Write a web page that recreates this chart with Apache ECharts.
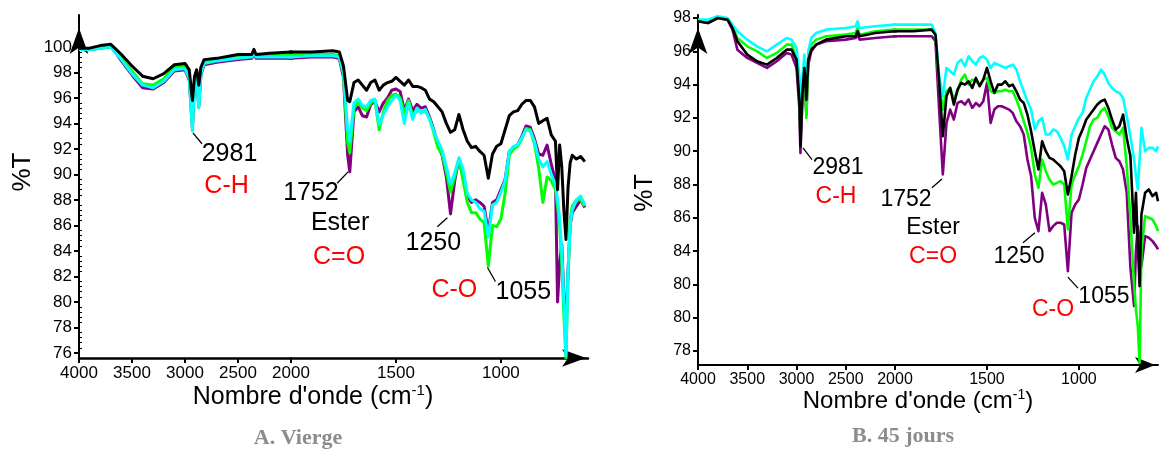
<!DOCTYPE html>
<html><head><meta charset="utf-8">
<script src="https://cdn.jsdelivr.net/npm/echarts@6/dist/echarts.min.js"></script>
<style>html,body{margin:0;padding:0;background:#fff}#c{width:1163px;height:449px}</style>
</head><body><div id="c"></div>
<script>
// ---------- Panel A (Vierge) ----------
const xA = [4000,3900,3800,3700,3650,3600,3500,3400,3300,3200,3100,3000,2960,2930,2910,2890,2870,2850,2820,2700,2500,2370,2350,2330,2200,2000,
 1900,1800,1770,1750,1730,1720,
 1700,1680,1660,1640,1620,1600,1580,1560,1540,1520,1500,1480,1460,1440,1420,1400,1380,1360,1340,1320,1300,1280,1260,1240,
 1220,1200,1180,1160,1140,1120,1100,1080,1060,1040,1020,1000,980,960,940,920,900,880,860,840,820,800,780,760,740,
 730,720,710,700,690,680,670,660,640,620,600];
const blackA = [99.9,99.9,100.1,100.2,99.8,99.4,98.5,97.7,97.5,97.9,98.6,98.7,98.2,95.8,97.7,98.2,97.0,98.4,99.0,99.1,99.4,99.4,99.8,99.4,99.5,99.6,
 99.6,99.7,99.6,98.5,95.8,95.7,
 97.2,97.4,97.0,96.6,97.2,97.4,96.6,97.0,97.2,97.3,97.6,97.3,97.0,97.4,96.9,96.9,96.8,96.6,95.9,95.7,95.3,94.9,94.0,93.3,
 93.5,94.7,93.5,92.6,92.1,92.2,91.8,91.5,89.7,91.6,92.2,92.4,93.5,94.6,94.9,95.0,95.5,95.8,95.8,95.3,94.0,94.2,94.4,93.1,92.6,
 88.8,92.3,90.6,87.2,84.9,89.0,90.9,91.5,91.2,91.4,91.0];
const purpleA = [99.8,99.8,99.9,100.0,99.5,98.9,97.8,96.8,96.7,97.2,98.1,98.2,97.4,93.6,97.2,97.5,95.3,97.8,98.6,98.8,99.0,99.1,99.5,99.1,99.1,99.1,
 99.2,99.2,99.1,97.6,91.5,90.2,
 94.9,95.3,94.6,94.5,95.5,95.7,94.9,95.6,96.0,96.6,96.7,96.5,95.0,95.9,95.0,95.5,95.2,95.3,94.5,93.5,92.3,91.5,89.8,86.9,
 89.5,91.2,89.8,88.3,87.8,88.0,87.8,87.5,85.5,87.8,88.0,88.8,89.6,91.8,92.1,92.3,93.0,93.8,93.7,92.8,91.6,91.5,92.3,90.8,89.5,
 80.0,83.0,84.5,80.5,78.0,82.5,86.0,87.0,87.5,88.0,87.4];
const greenA = [99.8,99.8,99.9,100.0,99.6,99.1,98.1,97.1,97.0,97.5,98.4,98.5,97.7,94.0,97.5,97.8,95.5,98.0,98.8,99.0,99.2,99.3,99.6,99.3,99.3,99.4,
 99.4,99.4,99.3,97.8,92.5,91.7,
 95.2,95.7,95.2,95.0,95.6,95.8,93.5,94.9,95.8,96.2,96.3,96.0,94.8,95.8,94.6,95.0,94.9,95.0,94.4,93.3,92.1,91.6,90.2,88.6,
 89.8,91.2,89.5,87.8,87.0,87.0,86.5,86.2,82.8,86.0,85.9,86.5,88.5,91.5,92.0,92.2,92.8,93.6,93.5,92.4,90.5,87.8,89.8,89.5,88.8,
 87.5,86.0,83.0,79.0,75.6,82.0,86.5,87.5,88.0,88.0,87.5];
const cyanA = [99.8,99.8,99.9,100.0,99.5,99.0,97.9,97.0,96.8,97.3,98.2,98.3,97.5,93.4,97.3,97.6,95.2,97.9,98.7,98.9,99.1,99.2,99.6,99.2,99.2,99.2,
 99.3,99.3,99.2,98.0,93.5,92.6,
 95.6,95.9,95.4,95.3,95.8,95.9,93.9,94.7,95.3,95.8,96.2,95.8,94.0,95.6,94.3,95.2,94.8,95.1,94.3,93.4,92.6,91.9,90.6,89.2,
 90.1,91.3,90.4,88.5,88.0,87.8,87.3,87.1,85.1,87.6,87.8,88.6,89.5,91.8,92.2,92.3,92.9,93.5,93.4,92.6,91.2,90.6,91.0,90.0,89.2,
 88.0,86.5,84.0,80.0,75.8,82.5,86.0,87.2,88.0,88.3,87.6];

// ---------- Panel B (45 jours) ----------
const xB = [4000,3900,3800,3700,3650,3600,3500,3400,3300,3200,3100,3050,3000,2970,2960,2940,2920,2900,2880,2850,2800,2700,2500,2400,2380,2360,2200,2000,
 1900,1800,
 1780,1760,1740,1720,1700,1680,1660,1640,1620,1600,
 1580,1560,1540,1520,1500,1480,1460,1440,1420,1400,
 1380,1360,1340,1320,1300,1280,1260,1240,1220,1200,
 1180,1160,1140,1120,1100,1080,1060,1040,1020,1000,
 980,960,940,920,900,880,860,840,820,800,
 780,760,740,720,700,
 690,680,670,660,640,620,600,580,570];
const blackB = [97.8,97.7,98.0,97.9,97.4,96.6,95.8,95.4,95.2,95.6,96.1,96.1,95.5,93.0,90.3,93.5,95.0,93.1,95.5,96.1,96.4,96.7,96.9,96.9,97.2,96.9,97.1,97.2,
 97.2,97.3,
 97.0,94.2,90.9,93.3,93.8,92.8,93.7,94.1,94.0,94.2,
 93.8,94.4,93.9,94.3,95.0,94.2,93.5,94.0,94.0,94.2,
 93.9,94.0,93.6,93.1,92.9,92.2,91.2,90.0,88.9,90.6,
 90.0,89.6,89.5,89.3,89.1,88.8,87.4,88.5,89.8,90.8,
 91.3,91.9,92.2,92.5,92.8,93.0,93.1,92.6,91.9,91.3,
 91.5,92.2,90.8,89.7,85.1,
 87.5,84.5,81.9,86.2,87.5,87.7,87.3,87.5,87.0];
const purpleB = [97.8,97.7,98.0,97.9,97.3,96.1,95.6,95.3,95.0,95.4,95.9,95.8,95.0,92.5,89.9,93.0,94.6,92.2,95.2,96.0,96.4,96.6,96.7,96.8,97.0,96.7,96.8,96.9,
 96.9,96.9,
 96.6,92.5,88.6,91.7,92.5,91.9,92.9,93.0,92.8,93.1,
 92.6,92.9,92.7,93.0,94.1,91.7,92.5,92.7,92.7,92.6,
 92.5,92.3,91.8,91.5,91.0,89.5,88.5,86.0,85.2,87.5,
 86.8,85.2,85.5,85.7,85.7,85.6,82.8,86.3,86.8,87.1,
 88.0,89.0,89.5,90.0,90.5,91.0,91.5,91.3,90.4,89.6,
 89.4,88.9,87.5,83.0,80.7,
 84.0,85.5,84.5,83.1,84.9,84.8,84.6,84.3,84.1];
const greenB = [97.8,97.8,98.0,97.9,97.5,96.8,96.3,96.0,95.6,95.9,96.4,96.4,95.6,93.5,91.1,93.8,95.3,92.0,95.7,96.4,96.7,96.9,97.0,97.1,97.4,97.0,97.2,97.3,
 97.3,97.3,
 97.0,94.0,92.5,93.6,93.8,93.1,93.6,94.3,94.6,94.0,
 94.3,94.2,94.0,94.3,94.4,93.6,93.5,93.6,93.6,93.7,
 93.6,93.6,93.1,92.5,91.8,91.1,90.2,88.6,87.8,89.5,
 88.8,88.3,88.0,88.1,88.2,88.0,85.3,88.0,88.6,89.1,
 89.8,90.6,91.5,91.9,92.0,92.4,92.6,92.1,91.4,91.2,
 91.0,91.4,89.1,86.0,82.0,
 80.5,79.5,77.3,84.0,86.1,86.0,85.9,85.5,85.2];
const cyanB = [97.9,97.9,98.1,98.0,97.6,97.2,96.7,96.3,96.0,96.4,96.8,96.7,96.2,94.5,92.7,94.5,95.8,93.5,96.0,96.8,97.1,97.3,97.4,97.5,97.8,97.4,97.5,97.6,
 97.6,97.6,
 97.1,94.5,93.3,95.0,94.8,94.6,95.3,95.5,95.1,95.7,
 95.4,95.2,95.6,95.7,95.5,95.0,95.3,95.2,95.1,95.0,
 95.1,95.2,94.9,94.2,93.6,93.0,92.5,91.3,91.8,92.0,
 91.0,91.0,91.3,91.2,90.8,90.3,89.5,91.0,91.5,92.0,
 92.3,93.2,93.7,94.2,94.5,94.9,94.6,94.1,93.8,93.6,
 93.5,93.2,92.1,90.9,89.5,
 88.5,87.7,89.5,91.4,90.0,90.2,90.2,90.0,90.3];

// ---------- tick labels ----------
const xTicksLeft = ['4000','3500','3000','2500','2000'];
const xTicksRight = ['1500','1000'];
const yTicksA = ['76','78','80','82','84','86','88','90','92','94','96','98','100'];
const yTicksB = ['78','80','80','84','86','88','90','92','94','96','98'];
const yTickPosB = [78,80,82,84,86,88,90,92,94,96,98];

// ---------- annotations (data coordinates) ----------
const annA = [
  {text:'2981', wn:2580, v:91.6, color:'#000'},
  {text:'C-H', wn:2608, v:89.1, color:'#ff0000'},
  {text:'1752', wn:1905, v:88.5, color:'#000'},
  {text:'Ester', wn:1766, v:86.2, color:'#000'},
  {text:'C=O', wn:1771, v:83.5, color:'#ff0000'},
  {text:'1250', wn:1322, v:84.6, color:'#000'},
  {text:'C-O', wn:1222, v:80.9, color:'#ff0000'},
  {text:'1055', wn:893, v:80.8, color:'#000'}
];
const leadA = [[2925,93.25,2840,92.4],[1780,89.3,1728,90.2],[1303,85.9,1255,86.6],[1064,82.7,1026,81.6]];
const annB = [
  {text:'2981', wn:2579, v:89.0, color:'#000'},
  {text:'C-H', wn:2599, v:87.25, color:'#ff0000'},
  {text:'1752', wn:1940, v:87.07, color:'#000'},
  {text:'Ester', wn:1793, v:85.4, color:'#000'},
  {text:'C=O', wn:1793, v:83.65, color:'#ff0000'},
  {text:'1250', wn:1326, v:83.65, color:'#000'},
  {text:'1055', wn:864, v:81.24, color:'#000'},
  {text:'C-O', wn:1141, v:80.5, color:'#ff0000'}
];
const leadB = [[2934,90.2,2843,89.5],[1799,87.8,1745,88.33],[1304,84.5,1239,85.1],[1060,82.44,1005,81.78]];

const FONT = "'Liberation Sans', Arial, sans-serif";
const COLORS = {purple:'#800080', green:'#00ff00', cyan:'#00ffff', black:'#000000'};

function pairs(xs, ys){ return xs.map((x,i)=>[x, ys[i]]); }

function xAxisCfg(grid, min, max, labels, fs, lw, arrow){
  const vals = labels.map(Number);
  return {type:'value', gridIndex:grid, min:min, max:max, inverse:true,
    axisLine:{show:true, onZero:false, lineStyle:{color:'#000', width:lw},
      symbol: arrow ? ['none','arrow'] : 'none',
      symbolSize: arrow ? arrow.size : [10,15], symbolOffset: arrow ? [0, arrow.off] : [0,0]},
    axisTick:{show:true, customValues:vals, length:5, lineStyle:{color:'#000', width:2}},
    axisLabel:{show:true, customValues:vals, margin:7, color:'#000', fontSize:fs, fontFamily:FONT,
      formatter:(v)=>{const i=vals.indexOf(v); return i>=0?labels[i]:'';}},
    splitLine:{show:false}};
}
function yAxisCfg(grid, min, max, vals, labels, show, fs){
  return {type:'value', gridIndex:grid, min:min, max:max, show:show,
    axisLine:{show:true, onZero:false, lineStyle:{color:'#000', width:2}, symbol:['none','arrow'], symbolSize:[14,26], symbolOffset:[0,-13]},
    axisTick:{show:true, customValues:vals, length:5, lineStyle:{color:'#000', width:2}},
    axisLabel:{show:true, customValues:vals, margin:7, color:'#000', fontSize:fs, fontFamily:FONT,
      formatter:(v)=>{let best=0,bd=1e9; vals.forEach((t,i)=>{const d=Math.abs(t-v); if(d<bd){bd=d;best=i;}}); return labels[best];}},
    splitLine:{show:false}};
}

const grids = [
  {left:79, top:15, width:212, height:343},
  {left:291, top:15, width:297, height:343},
  {left:698, top:15, width:197, height:350},
  {left:895, top:15, width:263, height:350}
];
const minorA = [];
for (let k=0;k<=67;k++){ const v=+(76+k*0.4).toFixed(1); if (Math.abs(v/2-Math.round(v/2))>1e-6 && v<=100.5) minorA.push(v); }

const xAxes = [
  xAxisCfg(0, 2000, 4000, xTicksLeft, 17, 2.5),
  xAxisCfg(1, 585, 2000, xTicksRight, 17, 2.5, {size:[13,24], off:-2}),
  xAxisCfg(2, 2000, 4000, xTicksLeft, 16, 2),
  xAxisCfg(3, 570, 2000, xTicksRight, 16, 2, {size:[12,20], off:-3})
];
const yAxes = [
  yAxisCfg(0, 75.6, 102.5, yTicksA.map(Number), yTicksA, true, 17),
  yAxisCfg(1, 75.6, 102.5, yTicksA.map(Number), yTicksA, false, 17),
  yAxisCfg(2, 77.16, 98.18, yTickPosB, yTicksB, true, 16),
  yAxisCfg(3, 77.16, 98.18, yTickPosB, yTicksB, false, 16),
  {type:'value', gridIndex:0, min:75.6, max:102.5, position:'left',
    axisLine:{show:false}, axisLabel:{show:false}, splitLine:{show:false},
    axisTick:{show:true, inside:true, customValues:minorA, length:3, lineStyle:{color:'#000', width:1}}}
];

const series = [];
function addPanel(xs, sets, gridL, gridR, width){
  [gridL, gridR].forEach(g=>{
    sets.forEach((s, k)=>{
      series.push({type:'line', xAxisIndex:g, yAxisIndex:g, data:pairs(xs, s.data), symbol:'none', showSymbol:false,
        clip:true, animation:false, silent:true, z:2+k, lineStyle:{color:COLORS[s.c], width:width, join:'round'}});
    });
  });
}
addPanel(xA, [{c:'purple',data:purpleA},{c:'green',data:greenA},{c:'cyan',data:cyanA},{c:'black',data:blackA}], 0, 1, 3);
addPanel(xB, [{c:'purple',data:purpleB},{c:'green',data:greenB},{c:'cyan',data:cyanB},{c:'black',data:blackB}], 2, 3, 2.6);

const chart = echarts.init(document.getElementById('c'), null, {renderer:'canvas'});
chart.setOption({animation:false, backgroundColor:'#fff', grid:grids, xAxis:xAxes, yAxis:yAxes, series:series});

function toPx(panel, wn, v){
  const base = panel==='A' ? 0 : 2;
  const idx = wn >= 2000 ? base : base+1;
  return chart.convertToPixel({xAxisIndex:idx, yAxisIndex:idx}, [wn, v]);
}
const graphics = [];
function addAnn(panel, anns, leads, fs){
  anns.forEach(a=>{
    const p = toPx(panel, a.wn, a.v);
    graphics.push({type:'text', x:p[0], y:p[1], z:100, style:{text:a.text, fill:a.color, font:fs+'px '+FONT, align:'center', verticalAlign:'middle'}});
  });
  leads.forEach(l=>{
    const p1 = toPx(panel, l[0], l[1]), p2 = toPx(panel, l[2], l[3]);
    graphics.push({type:'line', z:100, shape:{x1:p1[0], y1:p1[1], x2:p2[0], y2:p2[1]}, style:{stroke:'#000', lineWidth:1.3}});
  });
}
addAnn('A', annA, leadA, 25);
addAnn('B', annB, leadB, 23);

function xName(x, y, fs){
  return {type:'text', x:x, y:y, z:100, style:{text:"{a|Nombre d'onde (cm}{s|-1}{a|)}", align:'center', verticalAlign:'middle',
    rich:{a:{fontSize:fs, fontFamily:FONT, fill:'#000'}, s:{fontSize:Math.round(fs*0.6), fontFamily:FONT, fill:'#000', padding:[0,0,Math.round(fs*0.5),0]}}}};
}
graphics.push(xName(313, 397, 25));
graphics.push(xName(918, 401, 24));
graphics.push({type:'text', x:23, y:172, rotation:Math.PI/2, z:100, style:{text:'%T', fill:'#000', font:'26px '+FONT, align:'center', verticalAlign:'middle'}});
graphics.push({type:'text', x:645, y:193, rotation:Math.PI/2, z:100, style:{text:'%T', fill:'#000', font:'25px '+FONT, align:'center', verticalAlign:'middle'}});
graphics.push({type:'text', x:298, y:438, z:100, style:{text:'A. Vierge', fill:'#8c8c8c', font:"bold 22px 'Liberation Serif', 'Times New Roman', serif", align:'center', verticalAlign:'middle'}});
graphics.push({type:'text', x:903, y:436, z:100, style:{text:'B. 45 jours', fill:'#8c8c8c', font:"bold 22px 'Liberation Serif', 'Times New Roman', serif", align:'center', verticalAlign:'middle'}});
chart.setOption({graphic:graphics});
</script></body></html>
